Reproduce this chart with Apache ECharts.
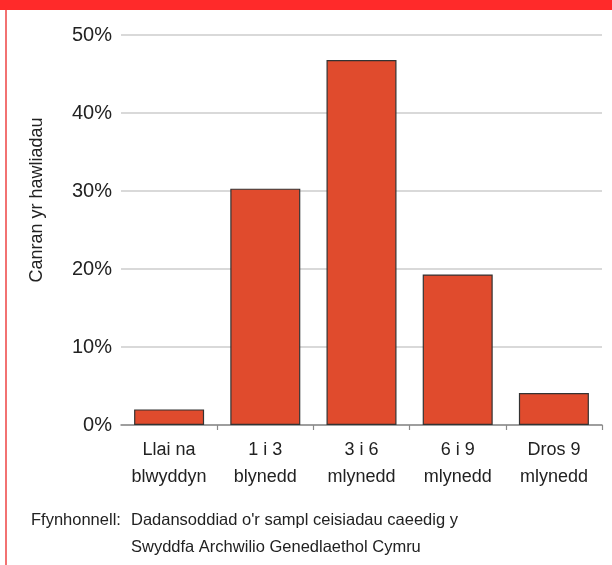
<!DOCTYPE html>
<html>
<head>
<meta charset="utf-8">
<script src="https://cdn.jsdelivr.net/npm/echarts@6/dist/echarts.min.js"></script>
<style>
  html, body { margin: 0; padding: 0; background: #ffffff; }
  #chart { width: 612px; height: 565px; }
</style>
</head>
<body>
<div id="chart"></div>
<script>
// Length of claim categories and share of claims (%)
const categories = ['Llai na\nblwyddyn', '1 i 3\nblynedd', '3 i 6\nmlynedd', '6 i 9\nmlynedd', 'Dros 9\nmlynedd'];
const shares = [2.0, 30.3, 46.8, 19.3, 4.1];
const yTicks = [0, 10, 20, 30, 40, 50];
const yName = 'Canran yr hawliadau';
const sourceLabel = 'Ffynhonnell:';
const sourceLines = ['Dadansoddiad o\'r sampl ceisiadau caeedig y', 'Swyddfa Archwilio Genedlaethol Cymru'];

const FONT = '"Liberation Sans", Arial, sans-serif';
const chart = echarts.init(document.getElementById('chart'), null, { renderer: 'canvas' });

chart.setOption({
  animation: false,
  backgroundColor: '#ffffff',
  grid: { left: 121, right: 10, top: 35, bottom: 140, containLabel: false },
  xAxis: {
    type: 'category',
    data: categories,
    axisLine: { lineStyle: { color: '#8a8a8a', width: 1.5 } },
    axisTick: { show: true, length: 5, lineStyle: { color: '#8a8a8a', width: 1.2 },
      interval: function (i) { return i > 0; } },
    axisLabel: { interval: 0, fontFamily: FONT, fontSize: 18, lineHeight: 27, color: '#222', margin: 12 }
  },
  yAxis: {
    type: 'value',
    min: yTicks[0],
    max: yTicks[yTicks.length - 1],
    interval: yTicks[1] - yTicks[0],
    axisLine: { show: false },
    axisTick: { show: false },
    splitLine: { lineStyle: { color: '#cccccc', width: 1.5 } },
    axisLabel: { fontFamily: FONT, fontSize: 20, color: '#222', margin: 9, formatter: '{value}%' }
  },
  series: [{
    type: 'bar',
    data: shares,
    barWidth: 70,
    itemStyle: { color: '#e04b2d', borderColor: '#333333', borderWidth: 1.2 }
  }],
  graphic: [
    // red band across the top
    { type: 'rect', left: 0, top: 0, shape: { width: 612, height: 10 }, style: { fill: '#ff2a2a' }, z: 10 },
    // thin rule down the left edge
    { type: 'rect', left: 5, top: 10, shape: { width: 2, height: 555 }, style: { fill: '#f27272' }, z: 10 },
    // axis title
    { type: 'text', x: 37, y: 200, rotation: Math.PI / 2,
      style: { text: yName, fontFamily: FONT, fontSize: 18, fill: '#222', align: 'center', verticalAlign: 'middle' } },
    // source note
    { type: 'text', x: 31, y: 520,
      style: { text: sourceLabel, fontFamily: FONT, fontSize: 16.5, fill: '#222', align: 'left', verticalAlign: 'middle' } },
    { type: 'text', x: 131, y: 520,
      style: { text: sourceLines[0], fontFamily: FONT, fontSize: 16.5, fill: '#222', align: 'left', verticalAlign: 'middle' } },
    { type: 'text', x: 131, y: 547,
      style: { text: sourceLines[1], fontFamily: FONT, fontSize: 16.5, fill: '#222', align: 'left', verticalAlign: 'middle' } }
  ]
});
</script>
</body>
</html>
